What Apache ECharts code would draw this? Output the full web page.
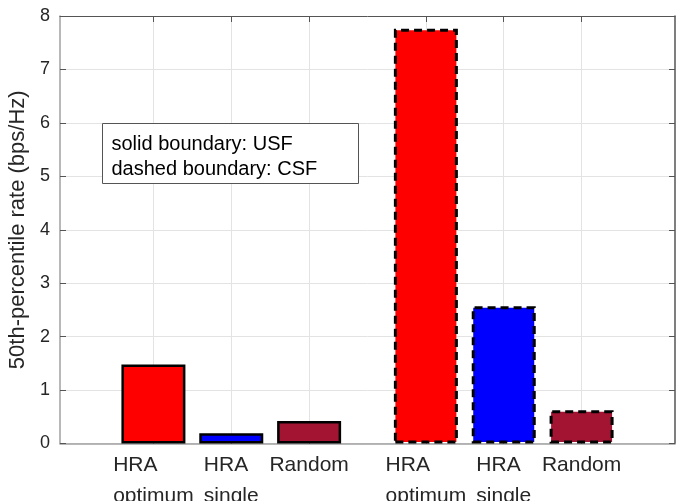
<!DOCTYPE html>
<html>
<head>
<meta charset="utf-8">
<script src="https://cdn.jsdelivr.net/npm/echarts@6/dist/echarts.min.js"></script>
<style>
  html, body { margin: 0; padding: 0; background: #fff; }
  #main { width: 681px; height: 501px; }
</style>
</head>
<body>
<div id="main"></div>
<script>
// bar positions on the x axis (gap between the two groups)
var xPositions = [1, 2, 3, 4.5, 5.5, 6.5];
var tickLabels = ['HRA\noptimum', 'HRA\nsingle', 'Random', 'HRA\noptimum', 'HRA\nsingle', 'Random'];
// 50th-percentile rate (bps/Hz)
var usfValues = [1.48, 0.19, 0.42];   // solid boundary
var csfValues = [7.76, 2.57, 0.62];   // dashed boundary
var barColors = ['#ff0000', '#0000ff', '#a31432'];

var textColor = '#262626';
var font = 'Liberation Sans, Arial, sans-serif';

var barData = [];
usfValues.forEach(function (v, i) {
  barData.push({
    value: [xPositions[i], v],
    itemStyle: { color: barColors[i], borderColor: '#000', borderWidth: 2.5, borderType: 'solid' }
  });
});
csfValues.forEach(function (v, i) {
  barData.push({
    value: [xPositions[i + 3], v],
    itemStyle: { color: barColors[i], borderColor: '#000', borderWidth: 3, borderType: [8, 5] }
  });
});

function labelFor(val) {
  var idx = xPositions.indexOf(val);
  if (idx < 0) return '';
  return tickLabels[idx].split('\n').map(function (s) { return '{l|' + s + '}'; }).join('\n');
}

var chart = echarts.init(document.getElementById('main'));
var option = {
  animation: false,
  backgroundColor: '#fff',
  grid: { left: 60, right: 6, top: 16, bottom: 57.5, containLabel: false, outerBoundsMode: 'none' },
  xAxis: [
    {
      type: 'value',
      min: -0.2,
      max: 7.7,
      axisLine: { show: true, onZero: false, lineStyle: { color: '#a0a0a0', width: 1.5 } },
      axisTick: { show: true, inside: true, length: 6, lineStyle: { color: '#555' }, customValues: xPositions },
      axisLabel: {
        customValues: xPositions,
        margin: 6,
        formatter: labelFor,
        hideOverlap: false,
        rich: {
          l: { align: 'left', fontSize: 21, lineHeight: 31, color: textColor, fontFamily: font }
        }
      },
      splitLine: { show: true, lineStyle: { color: '#e3e3e3' } }
    },
    {
      type: 'value',
      position: 'top',
      min: -0.2,
      max: 7.7,
      axisLine: { show: true, onZero: false, lineStyle: { color: '#555', width: 1 } },
      axisTick: { show: true, inside: true, length: 6, lineStyle: { color: '#555' }, customValues: xPositions },
      axisLabel: { show: false },
      splitLine: { show: false }
    }
  ],
  yAxis: [
    {
      type: 'value',
      min: 0,
      max: 8,
      interval: 1,
      name: '50th-percentile rate (bps/Hz)',
      nameLocation: 'middle',
      nameGap: 31,
      nameTextStyle: { fontSize: 22, color: textColor, fontFamily: font },
      axisLine: { show: true, onZero: false, lineStyle: { color: '#a0a0a0', width: 1.5 } },
      axisTick: { show: true, inside: true, length: 6, lineStyle: { color: '#555' } },
      axisLabel: { fontSize: 18, color: textColor, fontFamily: font, margin: 10 },
      splitLine: { show: true, lineStyle: { color: '#e3e3e3' } }
    },
    {
      type: 'value',
      position: 'right',
      min: 0,
      max: 8,
      interval: 1,
      axisLine: { show: true, onZero: false, lineStyle: { color: '#555', width: 1.5 } },
      axisTick: { show: true, inside: true, length: 6, lineStyle: { color: '#555' } },
      axisLabel: { show: false },
      splitLine: { show: false }
    }
  ],
  series: [
    {
      type: 'bar',
      xAxisIndex: 0,
      yAxisIndex: 0,
      barWidth: 64,
      data: barData
    }
  ],
  graphic: [
    {
      type: 'group',
      left: 102,
      top: 123,
      z: 100,
      children: [
        {
          type: 'rect',
          z: 100,
          shape: { x: 0, y: 0, width: 256, height: 60 },
          style: { fill: '#fff', stroke: '#555', lineWidth: 1 }
        },
        {
          type: 'text',
          z: 101,
          x: 9,
          y: 8,
          style: {
            text: 'solid boundary: USF\ndashed boundary: CSF',
            fontSize: 20,
            lineHeight: 25,
            fill: '#000',
            fontFamily: font
          }
        }
      ]
    }
  ]
};
chart.setOption(option);
</script>
</body>
</html>
